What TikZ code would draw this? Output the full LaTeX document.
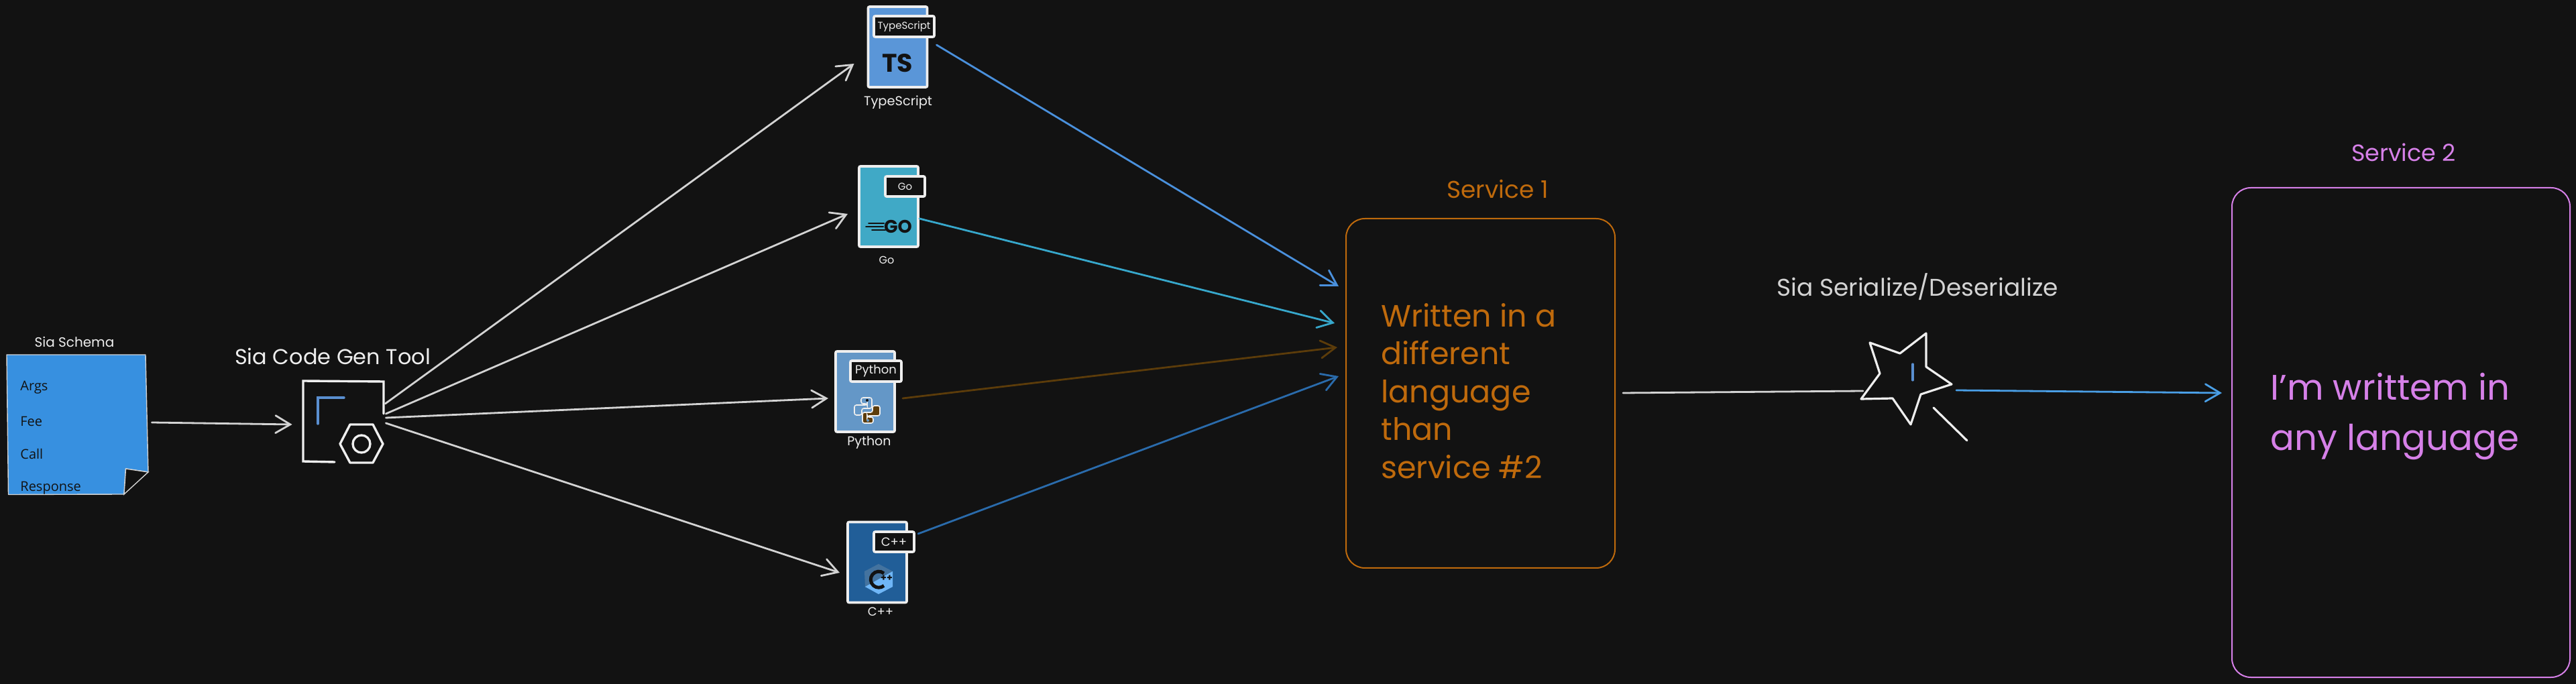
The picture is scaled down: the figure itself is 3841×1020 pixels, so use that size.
\documentclass[tikz,border=0pt]{standalone}
\usepackage{fontspec}
\setmainfont{Poppins}
\newfontfamily\notefont{Open Sans}
\usetikzlibrary{arrows.meta}
\definecolor{bgc}{HTML}{121212}
\definecolor{wht}{HTML}{EEEEEE}
\definecolor{arrw}{HTML}{D3D3D3}
\definecolor{schemac}{HTML}{3790E0}
\definecolor{tsc}{HTML}{5A96D8}
\definecolor{goc}{HTML}{40A9C6}
\definecolor{pyc}{HTML}{6497C7}
\definecolor{cppc}{HTML}{215E98}
\definecolor{cppdark}{HTML}{44739F}
\definecolor{cpplight}{HTML}{6FB6F7}
\definecolor{lineblue}{HTML}{4A90DC}
\definecolor{lineser}{HTML}{4A9FE6}
\definecolor{linego}{HTML}{37A8CC}
\definecolor{linepy}{HTML}{5C3C0A}
\definecolor{linecpp}{HTML}{2A6BAB}
\definecolor{orng}{HTML}{BF6A0C}
\definecolor{pink}{HTML}{D680E8}
\definecolor{iconblue}{HTML}{5A8FD0}
\tikzset{
  conn/.style={line width=1.4pt,arrw,line cap=round,-{Straight Barb[length=11pt,width=13pt,line cap=round]}},
  plainconn/.style={line width=1.4pt,arrw,line cap=round},
  iconbox/.style={draw=wht,line width=1.8pt,rounded corners=1pt,minimum width=44pt,minimum height=60pt,inner sep=0pt,outer sep=0pt},
  tagbox/.style={draw=wht,fill=bgc,line width=1.8pt,rounded corners=1pt,inner sep=0pt,outer sep=0pt,text=wht,font=\fontsize{7.5}{9}\selectfont},
  lab/.style={text=wht,inner sep=0pt},
  svcbox/.style={line width=1pt,rounded corners=14pt,inner sep=0pt,outer sep=0pt},
  iconline/.style={line width=1.7pt,wht,line cap=round,line join=round},
  note/.style={text=bgc,inner sep=0pt,anchor=west,font=\notefont\fontsize{10}{12}\selectfont},
}
\begin{document}
\begin{tikzpicture}[x=0.5pt,y=-0.5pt]
\useasboundingbox (0,0) rectangle (3841,1020);
\fill[bgc] (0,0) rectangle (3841,1020);

% schema
\filldraw[fill=schemac,draw=arrw,line width=0.7pt,line join=round] (10,529)--(217,529)--(221,704)--(187.5,699)--(185,737)--(12.5,737.5)--cycle;
\draw[draw=arrw,line width=0.7pt,fill=bgc] (187.5,699)--(221,704)--(185,737)--cycle;
\node[inner sep=0pt,minimum width=103.5pt,minimum height=104pt] (schema) at (115.5,633) {};
\node[note] (nArgs) at (30,578) {Args};
\node[note] (nFee) at (30,628) {Fee};
\node[note] (nCall) at (30,677) {Call};
\node[note] (nResp) at (30,728) {Response};
\node[lab,font=\fontsize{10}{12}\selectfont] (schemaT) at (111,510) {Sia Schema};

% tool icon
\node[inner sep=0pt,minimum width=60pt,minimum height=60pt] (tool) at (512,628) {};
\draw[iconline,line join=miter] (572,617)--(572,569)--(452,568)--(452,688)--(499,689);
\draw[line width=1.7pt,iconblue,line cap=round] (513,593)--(474,593)--(474,632);
\draw[iconline] (522,633)--(556,633)--(571,662)--(556,690)--(522,690)--(507,662)--cycle;
\draw[iconline] (539,662) circle [radius=13];
\node[lab,font=\fontsize{16}{18}\selectfont] (toolT) at (496,531) {Sia Code Gen Tool};

% TypeScript
\node[iconbox,fill=tsc] (ts) at (1338.5,70) {};
\node[tagbox,minimum width=45pt,minimum height=15.5pt] (tsTag) at (1348,39.5) {TypeScript};
\node[inner sep=0pt,text=bgc,font=\fontsize{19}{20}\selectfont\bfseries] (tsLogo) at (1338,94) {TS};
\node[lab,font=\fontsize{9.7}{11}\selectfont] (tsT) at (1339,153) {TypeScript};

% Go
\node[iconbox,fill=goc] (go) at (1325,308) {};
\node[tagbox,minimum width=29.5pt,minimum height=15pt] (goTag) at (1349.5,278) {Go};
\node[inner sep=0pt,text=bgc,font=\fontsize{13.5}{15}\selectfont\bfseries] (goLogo) at (1339,338) {GO};
\draw[line width=1pt,bgc,line cap=round] (1295,333)--(1318,333) (1291,338)--(1317,338) (1300,343)--(1320,343);
\node[lab,font=\fontsize{8}{10}\selectfont] (goT) at (1322,388) {Go};

% Python
\node[iconbox,fill=pyc] (py) at (1290,584) {};
\node[tagbox,minimum width=38pt,minimum height=15.5pt,font=\fontsize{9}{11}\selectfont] (pyTag) at (1306,553.5) {Python};
\begin{scope}[shift={(1273,592)}]
\draw[wht,line width=0.8pt,rounded corners=1.5pt,fill=pyc] (11,1)--(27,1)--(27,17)--(12,17)--(12,27)--(1,27)--(1,12)--(20,12)--(20,10)--(11,10)--cycle;
\draw[wht,line width=0.8pt,rounded corners=1.5pt,fill=linepy] (29,39)--(13,39)--(13,23)--(28,23)--(28,13)--(39,13)--(39,28)--(20,28)--(20,30)--(29,30)--cycle;
\fill[bgc] (20,5) circle [radius=2];
\fill[pyc] (21,35) circle [radius=2];
\end{scope}
\node[lab,font=\fontsize{9.5}{11}\selectfont] (pyT) at (1296,660) {Python};

% C++
\node[iconbox,fill=cppc] (cpp) at (1308,838.5) {};
\node[tagbox,minimum width=30pt,minimum height=15pt,font=\fontsize{9}{11}\selectfont] (cppTag) at (1333,808) {C++};
\fill[cppdark] (1310,841)--(1331,852)--(1290,876)--(1289,852)--cycle;
\fill[cpplight] (1331,852)--(1331,875)--(1310,886)--(1290,875)--cycle;
\draw[bgc,line width=2.5pt] (1318,855) arc [start angle=-50,end angle=-310,radius=12];
\node[inner sep=0pt,text=bgc,font=\fontsize{7}{8}\selectfont\bfseries] (cppPlus) at (1322,862) {++};
\node[lab,font=\fontsize{9}{11}\selectfont] (cppT) at (1313,912) {C++};

% Service 1
\node[svcbox,draw=orng,minimum width=200.5pt,minimum height=260.5pt] (svc1) at (2207.5,586.5) {};
\node[inner sep=0pt,text=orng,font=\fontsize{18}{20}\selectfont] (svc1T) at (2233,282) {Service 1};
\node[inner sep=0pt,text=orng,anchor=north west,align=left,font=\fontsize{23}{28.25}\selectfont] (svc1B) at (2059,452) {Written in a\\different\\language\\than\\service \#2};

% Serialize
\node[inner sep=0pt] (star) at (2843,570) {};
\draw[iconline,line width=1.6pt] (2788,511)--(2833,527)--(2872,497)--(2872,547)--(2910,573)--(2864,588)--(2849,633)--(2822,594)--(2775,595)--(2803,557)--cycle;
\draw[line width=1.6pt,iconblue,line cap=round] (2852,543)--(2852,567);
\draw[iconline,line width=1.6pt] (2883,608)--(2933,657);
\node[lab,text=arrw,font=\fontsize{18}{20}\selectfont] (serT) at (2859,428) {Sia Serialize/Deserialize};

% Service 2
\node[svcbox,draw=pink,minimum width=252pt,minimum height=365pt] (svc2) at (3580,645) {};
\node[inner sep=0pt,text=pink,font=\fontsize{17.5}{20}\selectfont] (svc2T) at (3584,227) {Service 2};
\node[inner sep=0pt,text=pink,anchor=north west,align=left,font=\fontsize{26.5}{37.5}\selectfont] (svc2B) at (3385,556) {I'm writtem in\\any language};

% connectors
\draw[conn] ([shift={(7,-3)}]schema.east) -- ([shift={(-16,5)}]tool.west);
\draw[conn] ([shift={(2,-26)}]tool.east) -- ([shift={(-21,25)}]ts.west);
\draw[conn] ([shift={(3,-11)}]tool.east) -- ([shift={(-17,11)}]go.west);
\draw[conn] ([shift={(3,-5)}]tool.east) -- ([shift={(-11,10)}]py.west);
\draw[conn] ([shift={(3,3)}]tool.east) -- ([shift={(-12,15.5)}]cpp.west);
\draw[conn,lineblue] ([shift={(14,-3)}]ts.east) -- ([shift={(-11,-159.5)}]svc1.west);
\draw[conn,linego] ([shift={(2,18)}]go.east) -- ([shift={(-17,-104.5)}]svc1.west);
\draw[conn,linepy] ([shift={(12,10)}]py.east) -- ([shift={(-13,-68.5)}]svc1.west);
\draw[conn,linecpp] ([shift={(17,-42.5)}]cpp.east) -- ([shift={(-11,-25.5)}]svc1.west);
\draw[plainconn] ([shift={(12,-0.5)}]svc1.east) -- ([shift={(-65,13)}]star.center);
\draw[conn,lineser] ([shift={(74,12)}]star.center) -- ([shift={(-15,-59)}]svc2.west);
\end{tikzpicture}
\end{document}
